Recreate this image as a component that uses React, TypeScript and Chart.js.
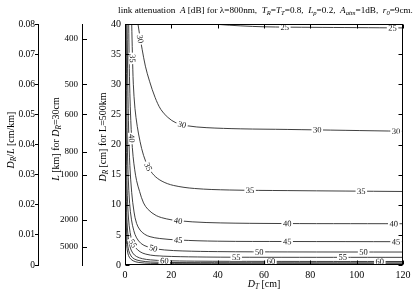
import React, { useEffect, useRef } from 'react';
import { Chart, registerables } from 'chart.js';

Chart.register(...registerables);

const FONT = "'Liberation Serif', 'Times New Roman', serif";

// contour levels [dB]
const levels = [25, 30, 35, 40, 45, 50, 55, 60, 65, 70];

// contour paths: D_T [cm] and D_R [cm]
const dt25 = [38, 45, 55, 65, 80, 100, 120];
const dr25 = [40, 39.8, 39.6, 39.5, 39.45, 39.4, 39.35];

const dt30 = [5.6, 6.4, 7.4, 8.8, 10.6, 13, 15.5, 18.5, 22, 27, 35, 50, 70, 95, 120];
const dr30 = [40, 38, 35.8, 33, 30.5, 27.8, 25.8, 24.5, 23.6, 23.1, 22.8, 22.6, 22.5, 22.35, 22.2];

const dt35 = [2.9, 3.2, 3.6, 4.3, 5.3, 6.5, 8, 10, 12.5, 16, 21, 30, 45, 70, 120];
const dr35 = [40, 35, 30, 26, 23, 20.5, 18.2, 16.3, 14.9, 13.9, 13.2, 12.7, 12.45, 12.35, 12.2];

const dt40 = [1.6, 1.8, 2.1, 2.5, 2.9, 3.5, 4.2, 5, 6.3, 8, 10, 13.5, 18, 23, 35, 60, 120];
const dr40 = [40, 34, 28.5, 24, 21, 18, 15.8, 14, 12.2, 10.3, 9.2, 8.2, 7.65, 7.35, 7.05, 6.9, 6.85];

const dt45 = [0.9, 1.2, 1.6, 2.1, 2.9, 3.9, 5, 6.5, 8.5, 10.8, 15, 23, 40, 70, 120];
const dr45 = [40, 30, 22, 16.5, 12, 8.8, 6.9, 5.8, 5.1, 4.7, 4.4, 4.15, 3.95, 3.9, 3.87];

const dt50 = [0.5, 0.7, 1.0, 1.4, 2.0, 2.8, 3.8, 5, 7, 9.5, 12.2, 17, 25, 40, 70, 120];
const dr50 = [40, 29, 20, 14.5, 10.2, 7.5, 5.7, 4.5, 3.55, 3.05, 2.77, 2.5, 2.33, 2.22, 2.17, 2.15];

const dt55 = [0.3, 0.45, 0.7, 1.0, 1.5, 2.2, 3.2, 4.5, 6.5, 9, 13, 20, 35, 60, 120];
const dr55 = [40, 25, 16.5, 11.5, 7.8, 5.4, 3.8, 2.9, 2.2, 1.8, 1.55, 1.42, 1.32, 1.28, 1.27];

const dt60 = [0.17, 0.25, 0.4, 0.6, 0.9, 1.4, 2.2, 3.3, 5, 7.5, 11, 17, 30, 60, 120];
const dr60 = [40, 26, 16, 10.5, 7, 4.6, 3.0, 2.0, 1.4, 1.05, 0.85, 0.72, 0.64, 0.6, 0.58];

const dt65 = [0.1, 0.15, 0.25, 0.4, 0.6, 1, 1.6, 2.6, 4, 6.5, 11, 20, 45, 120];
const dr65 = [40, 26, 15, 9.5, 6.3, 3.8, 2.4, 1.5, 1.0, 0.7, 0.5, 0.42, 0.38, 0.36];

const dt70 = [0.06, 0.1, 0.15, 0.25, 0.4, 0.7, 1.2, 2, 3.5, 6, 11, 25, 120];
const dr70 = [40, 24, 16, 9.5, 6, 3.4, 2.0, 1.2, 0.7, 0.42, 0.28, 0.22, 0.2];

const contourDT = [dt25, dt30, dt35, dt40, dt45, dt50, dt55, dt60, dt65, dt70];
const contourDR = [dr25, dr30, dr35, dr40, dr45, dr50, dr55, dr60, dr65, dr70];

// inline contour labels
const labelLevel = [25, 25, 30, 30, 30, 30, 35, 35, 35, 35, 40, 40, 40, 40, 45, 45, 45, 50, 50, 50, 55, 55, 55, 60, 60, 60];
const labelDT = [69, 115.5, 6.6, 24.6, 83, 117, 3.25, 10, 54, 102, 2.9, 22.9, 70, 116, 23, 70, 117, 12.2, 58, 103, 3.4, 48, 94, 17, 63, 110];
const labelDR = [39.45, 39.35, 37.5, 23.3, 22.45, 22.2, 34.3, 16.3, 12.4, 12.25, 21, 7.35, 6.9, 6.85, 4.15, 3.9, 3.87, 2.77, 2.17, 2.15, 3.6, 1.3, 1.27, 0.72, 0.6, 0.58];

// axes
const dtRange = [0, 120];
const drRange = [0, 40];
const ratioRange = [0, 0.08];
const linkLengthTicks = [400, 500, 600, 800, 1000, 2000, 5000];
const refDiameter = 30; // cm, for the L axis

type Seg = { t: string; it?: boolean; sub?: boolean };

const titleSegs: Seg[] = [
  { t: 'link attenuation  ' }, { t: 'A', it: true }, { t: ' [dB] for λ=800nm,  ' },
  { t: 'T', it: true }, { t: 'R', it: true, sub: true }, { t: '=' },
  { t: 'T', it: true }, { t: 'T', it: true, sub: true }, { t: '=0.8,  ' },
  { t: 'L', it: true }, { t: 'p', it: true, sub: true }, { t: '=0.2,  ' },
  { t: 'A', it: true }, { t: 'atm', it: true, sub: true }, { t: '=1dB,  ' },
  { t: 'r', it: true }, { t: '0', it: true, sub: true }, { t: '=9cm.' },
];
const ratioTitle: Seg[] = [{ t: 'D', it: true }, { t: 'R', it: true, sub: true }, { t: '/' }, { t: 'L', it: true }, { t: ' [cm/km]' }];
const lengthTitle: Seg[] = [{ t: 'L', it: true }, { t: ' [km] for ' }, { t: 'D', it: true }, { t: 'R', it: true, sub: true }, { t: '=30cm' }];
const drTitle: Seg[] = [{ t: 'D', it: true }, { t: 'R', it: true, sub: true }, { t: ' [cm] for L=500km' }];
const dtTitle: Seg[] = [{ t: 'D', it: true }, { t: 'T', it: true, sub: true }, { t: ' [cm]' }];

function segFont(s: Seg, size: number) {
  return `${s.it ? 'italic ' : ''}${s.sub ? size * 0.72 : size}px ${FONT}`;
}
function richWidth(ctx: CanvasRenderingContext2D, segs: Seg[], size: number) {
  let w = 0;
  for (const s of segs) { ctx.font = segFont(s, size); w += ctx.measureText(s.t).width; }
  return w;
}
function drawRich(ctx: CanvasRenderingContext2D, segs: Seg[], cx: number, cy: number, size: number) {
  const w = richWidth(ctx, segs, size);
  let x = cx - w / 2;
  ctx.textAlign = 'left';
  ctx.textBaseline = 'middle';
  for (const s of segs) {
    ctx.font = segFont(s, size);
    ctx.fillText(s.t, x, cy + (s.sub ? size * 0.32 : 0));
    x += ctx.measureText(s.t).width;
  }
}

const decor = {
  id: 'decor',
  afterDatasetsDraw(chart: any) {
    const ctx: CanvasRenderingContext2D = chart.ctx;
    const xs = chart.scales.x, ys = chart.scales.y, yl = chart.scales.yL;
    const { left, right, top, bottom } = chart.chartArea;
    ctx.save();
    // contour labels
    ctx.font = `8.5px ${FONT}`;
    ctx.textAlign = 'center';
    ctx.textBaseline = 'middle';
    labelLevel.forEach((lv, k) => {
      const px = xs.getPixelForValue(labelDT[k]);
      const py = ys.getPixelForValue(labelDR[k]);
      const idx = levels.indexOf(lv);
      const pts = contourDT[idx].map((x, j) => [xs.getPixelForValue(x), ys.getPixelForValue(contourDR[idx][j])]);
      let best = Infinity, ang = 0;
      for (let j = 0; j < pts.length - 1; j++) {
        const [x1, y1] = pts[j], [x2, y2] = pts[j + 1];
        const dx = x2 - x1, dy = y2 - y1;
        const l2 = dx * dx + dy * dy || 1;
        let t = ((px - x1) * dx + (py - y1) * dy) / l2;
        t = Math.max(0, Math.min(1, t));
        const d = Math.hypot(px - x1 - t * dx, py - y1 - t * dy);
        if (d < best) { best = d; ang = Math.atan2(dy, dx); }
      }
      if (ang > Math.PI / 2) ang -= Math.PI;
      if (ang <= -Math.PI / 2) ang += Math.PI;
      const txt = String(lv);
      const w = ctx.measureText(txt).width;
      ctx.save();
      ctx.translate(px, py);
      ctx.rotate(ang);
      ctx.fillStyle = '#fff';
      ctx.fillRect(-w / 2 - 1.5, -3.5, w + 3, 7);
      ctx.fillStyle = '#111';
      ctx.fillText(txt, 0, 0.5);
      ctx.restore();
    });
    // frame
    const L = Math.round(left) + 0.5, R = Math.round(right) - 0.5, T = Math.round(top) + 0.5, B = Math.round(bottom) - 0.5;
    ctx.strokeStyle = '#000';
    ctx.lineWidth = 1;
    ctx.strokeRect(L, T, R - L, B - T);
    ctx.beginPath();
    for (const t of xs.ticks) {
      const p = Math.round(xs.getPixelForValue(t.value)) + 0.5;
      ctx.moveTo(p, B); ctx.lineTo(p, B - 4);
      ctx.moveTo(p, T); ctx.lineTo(p, T + 4);
    }
    for (const t of ys.ticks) {
      const p = Math.round(ys.getPixelForValue(t.value)) + 0.5;
      ctx.moveTo(L, p); ctx.lineTo(L + 4, p);
      ctx.moveTo(R, p); ctx.lineTo(R - 4, p);
    }
    for (const t of yl.ticks) {
      const p = Math.round(yl.getPixelForValue(t.value)) + 0.5;
      const xr = Math.round(yl.right);
      ctx.moveTo(xr, p); ctx.lineTo(xr + 5, p);
    }
    ctx.stroke();
    ctx.restore();
  },
  afterDraw(chart: any) {
    const ctx: CanvasRenderingContext2D = chart.ctx;
    const { left, right } = chart.chartArea;
    const ya = chart.scales.yA, yl = chart.scales.yL, ys = chart.scales.y;
    ctx.save();
    ctx.fillStyle = '#000';
    // main title fitted to span
    const tLeft = left - 7, tRight = right + 10;
    const w10 = richWidth(ctx, titleSegs, 10);
    const size = 10 * (tRight - tLeft) / w10;
    drawRich(ctx, titleSegs, (tLeft + tRight) / 2, 10.5, size);
    // x title
    drawRich(ctx, dtTitle, (left + right) / 2, 284, 10);
    // rotated y titles
    const rot = (segs: Seg[], cx: number, cy: number) => {
      ctx.save();
      ctx.translate(cx, cy);
      ctx.rotate(-Math.PI / 2);
      drawRich(ctx, segs, 0, 0, 10);
      ctx.restore();
    };
    rot(ratioTitle, ya.left + 11, 140);
    rot(lengthTitle, yl.left + 18, 139);
    rot(drTitle, ys.left + 21, 137);
    ctx.restore();
  },
};

export default function App() {
  const ref = useRef<HTMLCanvasElement>(null);
  useEffect(() => {
    const canvas = ref.current!;
    const datasets = levels.map((lv, i) => ({
      label: String(lv),
      data: contourDT[i].map((x, j) => ({ x, y: contourDR[i][j] })),
      showLine: true,
      pointRadius: 0,
      borderColor: '#2a2a2a',
      borderWidth: 0.9,
      tension: 0.35,
      fill: false,
      xAxisID: 'x',
      yAxisID: 'y',
    }));
    const tickFont = { family: FONT, size: 10 };
    const chart = new Chart(canvas, {
      type: 'scatter',
      data: { datasets },
      options: {
        responsive: false,
        animation: false,
        events: [],
        layout: { padding: { left: 0, right: 12, top: 24, bottom: 0 } },
        plugins: { legend: { display: false }, tooltip: { enabled: false }, title: { display: false } },
        scales: {
          x: {
            type: 'linear', position: 'bottom', min: dtRange[0], max: dtRange[1],
            ticks: { stepSize: 20, padding: 4, maxRotation: 0, autoSkip: false, color: '#000', font: tickFont },
            grid: { display: false, drawTicks: false },
            border: { display: false },
            afterFit: (s: any) => { s.height = 28; },
          },
          y: {
            type: 'linear', position: 'left', weight: 1, min: drRange[0], max: drRange[1],
            ticks: { stepSize: 5, padding: 4, color: '#000', font: tickFont },
            grid: { display: false, drawTicks: false },
            border: { display: false },
            afterFit: (s: any) => { s.width = 43; },
          },
          yL: {
            type: 'linear', position: 'left', weight: 2, min: ratioRange[0], max: ratioRange[1],
            afterBuildTicks: (s: any) => { s.ticks = linkLengthTicks.map((L) => ({ value: refDiameter / L })); },
            ticks: { padding: 4, color: '#000', font: { family: FONT, size: 9 }, autoSkip: false, callback: (v: any) => String(Math.round(refDiameter / v)) },
            grid: { display: false, drawTicks: false },
            border: { display: true, color: '#000', width: 1 },
            afterFit: (s: any) => { s.width = 44; },
          },
          yA: {
            type: 'linear', position: 'left', weight: 3, min: ratioRange[0], max: ratioRange[1],
            ticks: { stepSize: 0.01, padding: 0, color: '#000', font: { family: FONT, size: 9.5 }, callback: (v: any) => (v === 0 ? '0' : Number(v).toFixed(2)) },
            grid: { display: true, drawOnChartArea: false, drawTicks: true, tickLength: 3, color: '#000' },
            border: { display: true, color: '#000', width: 1 },
            afterFit: (s: any) => { s.width = 38; },
          },
        },
      } as any,
      plugins: [decor],
    });
    return () => chart.destroy();
  }, []);
  return (
    <div style={{ position: 'fixed', left: 0, top: 0, width: 415, height: 293, background: '#fff' }}>
      <canvas ref={ref} width={415} height={293} style={{ display: 'block' }} />
    </div>
  );
}
